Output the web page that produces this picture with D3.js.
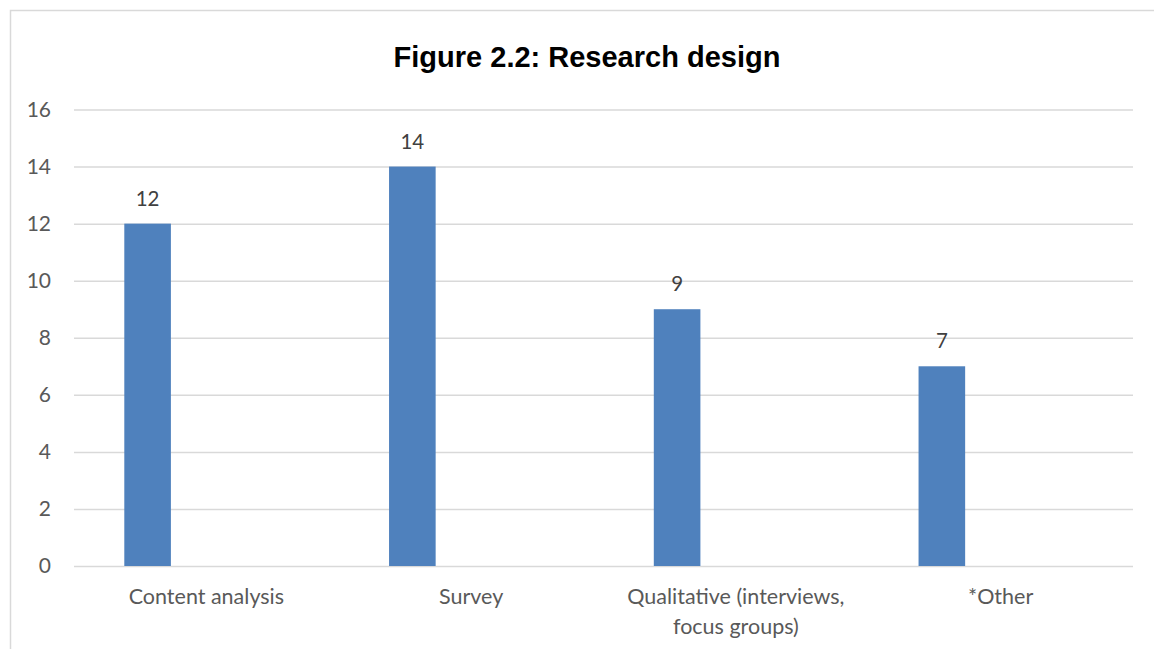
<!DOCTYPE html>
<html>
<head>
<meta charset="utf-8">
<script src="https://cdn.jsdelivr.net/npm/d3@7"></script>
<style>
    body { margin: 0; background: #fff; }
    svg { display: block; }
</style>
</head>
<body>
<div id="chart"></div>
<script>
// Chart data
const categories = ['Content analysis', 'Survey', 'Qualitative (interviews, focus groups)', '*Other'];
const categoryLines = [['Content analysis'], ['Survey'], ['Qualitative (interviews,', 'focus groups)'], ['*Other']];
const values = [12, 14, 9, 7];
const yTicks = [0, 2, 4, 6, 8, 10, 12, 14, 16];
const title = 'Figure 2.2: Research design';

const width = 1154, height = 649;
const margin = { left: 74, right: 21, top: 109.5, bottom: 83 };
const axisFont = 'Lato, "Open Sans", sans-serif';

const svg = d3.select('#chart').append('svg')
    .attr('width', width)
    .attr('height', height);

// outer chart border (runs off the right and bottom)
svg.append('rect')
    .attr('x', 10.5).attr('y', 10.5)
    .attr('width', 1170).attr('height', 680)
    .attr('fill', 'none')
    .attr('stroke', '#d9d9d9')
    .attr('stroke-width', 1.5);

const x = d3.scaleBand()
    .domain(categories)
    .range([margin.left, width - margin.right])
    .padding(0);

const y = d3.scaleLinear()
    .domain([0, 16])
    .range([height - margin.bottom, margin.top]);

// gridlines + y tick labels
const yAxis = d3.axisLeft(y)
    .tickValues(yTicks)
    .tickSize(-(width - margin.left - margin.right))
    .tickPadding(23)
    .tickFormat(d3.format('d'));

const yg = svg.append('g')
    .attr('transform', `translate(${margin.left},0)`)
    .call(yAxis);
yg.select('.domain').remove();
yg.selectAll('.tick line')
    .attr('stroke', '#d9d9d9')
    .attr('stroke-width', 1.5);
yg.selectAll('.tick text')
    .attr('fill', '#595959')
    .style('font-family', axisFont)
    .style('font-size', '21px');

// bars sit in the left part of each slot
const barOffset = 0.19, barWidth = 0.176;

svg.append('g').selectAll('rect')
    .data(values)
    .enter().append('rect')
    .attr('x', (d, i) => x(categories[i]) + x.bandwidth() * barOffset)
    .attr('width', x.bandwidth() * barWidth)
    .attr('y', d => y(d))
    .attr('height', d => y(0) - y(d))
    .attr('fill', '#4f81bd');

// value labels
svg.append('g').selectAll('text')
    .data(values)
    .enter().append('text')
    .attr('x', (d, i) => x(categories[i]) + x.bandwidth() * (barOffset + barWidth / 2))
    .attr('y', d => y(d) - 18)
    .attr('text-anchor', 'middle')
    .attr('fill', '#404040')
    .style('font-family', axisFont)
    .style('font-size', '20.5px')
    .text(d => d);

// category labels
const catG = svg.append('g').selectAll('text')
    .data(categories)
    .enter().append('text')
    .attr('x', d => x(d) + x.bandwidth() / 2)
    .attr('y', y(0) + 38)
    .attr('text-anchor', 'middle')
    .attr('fill', '#595959')
    .style('font-family', axisFont)
    .style('font-size', '21.5px');

catG.each(function (d, i) {
    const t = d3.select(this);
    categoryLines[i].forEach((line, j) => {
        t.append('tspan')
            .attr('x', x(d) + x.bandwidth() / 2)
            .attr('dy', j === 0 ? 0 : 30)
            .text(line);
    });
});

// title
svg.append('text')
    .attr('x', 587)
    .attr('y', 67)
    .attr('text-anchor', 'middle')
    .attr('fill', '#000')
    .style('font-family', '"Liberation Sans", Arial, sans-serif')
    .style('font-weight', 'bold')
    .style('font-size', '29px')
    .text(title);
</script>
</body>
</html>
